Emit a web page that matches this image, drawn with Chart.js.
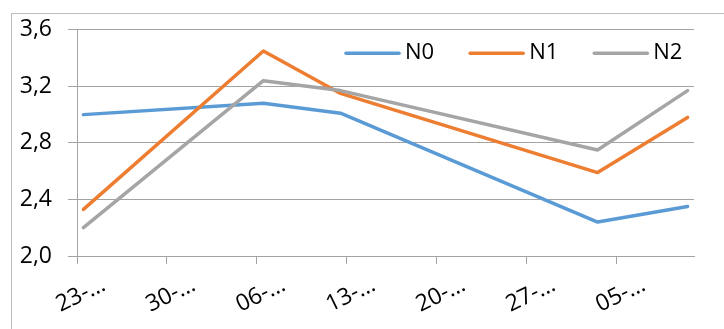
<!DOCTYPE html>
<html>
<head>
<meta charset="utf-8">
<script src="https://cdn.jsdelivr.net/npm/chart.js@4.4.1/dist/chart.umd.min.js"></script>
<style>
  html, body { margin: 0; padding: 0; background: #ffffff; }
  canvas { display: block; }
</style>
</head>
<body>
<canvas id="c" width="724" height="329"></canvas>
<script>
// Sampling dates and measured values per treatment
const startDate = '2020-01-23';
const sampleDates = ['2020-01-23', '2020-02-06', '2020-02-12', '2020-03-03', '2020-03-10'];
const seriesNames = ['N0', 'N1', 'N2'];
const n0Values = [3.00, 3.08, 3.01, 2.24, 2.35];
const n1Values = [2.33, 3.45, 3.15, 2.59, 2.98];
const n2Values = [2.20, 3.24, 3.17, 2.75, 3.17];
const seriesColors = ['#5B9BD5', '#ED7D31', '#A5A5A5'];

// Weekly axis labels (truncated date text) and value axis ticks
const tickLabels = ['23-…', '30-…', '06-…', '13-…', '20-…', '27-…', '05-…'];
const yTicks = [2.0, 2.4, 2.8, 3.2, 3.6];
const axisDays = 48;

const DAY = 86400000;
const dayIndex = d => Math.round((Date.parse(d) - Date.parse(startDate)) / DAY);
// each day occupies one slot; points sit in the middle of their day
const xValues = sampleDates.map(d => dayIndex(d) + 0.5);
const tickDays = tickLabels.map((_, i) => i * 7);

const toPoints = vals => vals.map((v, i) => ({ x: xValues[i], y: v }));

const FONT = 'Open Sans';
const GRID = '#A3A3A3';

const frame = {
  id: 'frame',
  beforeDraw(chart) {
    const ctx = chart.ctx;
    ctx.save();
    ctx.strokeStyle = '#BDBDBD';
    ctx.lineWidth = 1;
    ctx.strokeRect(11.5, 13.5, 900, 500);
    ctx.restore();
  }
};

const lineLegend = {
  id: 'lineLegend',
  afterDraw(chart) {
    const ctx = chart.ctx;
    const area = chart.chartArea;
    ctx.save();
    ctx.font = '22px "' + FONT + '"';
    ctx.textBaseline = 'middle';
    ctx.textAlign = 'left';
    const sample = 53, gap = 6, itemGap = 36;
    let x = area.left + 269;
    const y = area.top + 23.5;
    chart.data.datasets.forEach(ds => {
      ctx.strokeStyle = ds.borderColor;
      ctx.lineWidth = 3.5;
      ctx.lineCap = 'round';
      ctx.beginPath();
      ctx.moveTo(x, y);
      ctx.lineTo(x + sample, y);
      ctx.stroke();
      ctx.fillStyle = '#000000';
      ctx.fillText(ds.label, x + sample + gap, y - 1);
      x += sample + gap + ctx.measureText(ds.label).width + itemGap;
    });
    ctx.restore();
  }
};

const allValues = [n0Values, n1Values, n2Values];

new Chart(document.getElementById('c'), {
  type: 'line',
  data: {
    datasets: seriesNames.map((name, i) => ({
      label: name,
      data: toPoints(allValues[i]),
      borderColor: seriesColors[i],
      backgroundColor: seriesColors[i],
      borderWidth: 3.5,
      borderJoinStyle: 'round',
      borderCapStyle: 'round',
      pointRadius: 0,
      tension: 0,
      order: seriesNames.length - i
    }))
  },
  options: {
    responsive: false,
    devicePixelRatio: 1,
    animation: false,
    layout: { padding: { top: 29, right: 30, left: 0, bottom: 0 } },
    plugins: {
      legend: { display: false },
      tooltip: { enabled: false }
    },
    scales: {
      x: {
        type: 'linear',
        position: 'bottom',
        min: 0,
        max: axisDays,
        afterBuildTicks: s => { s.ticks = tickDays.map(v => ({ value: v })); },
        afterFit: s => { s.height = 73; },
        ticks: {
          autoSkip: false,
          minRotation: 26,
          maxRotation: 26,
          labelOffset: 27,
          padding: 7,
          color: '#000000',
          font: { family: FONT, size: 23 },
          callback: (v, i) => tickLabels[i]
        },
        grid: { drawOnChartArea: false, color: GRID, lineWidth: 1, tickLength: 8 },
        border: { color: GRID, width: 1 }
      },
      y: {
        type: 'linear',
        min: yTicks[0],
        max: yTicks[yTicks.length - 1],
        afterBuildTicks: s => { s.ticks = yTicks.map(v => ({ value: v })); },
        afterFit: s => { s.width = 77; },
        ticks: {
          padding: 16,
          color: '#000000',
          font: { family: FONT, size: 23 },
          callback: v => v.toFixed(1).replace('.', ',')
        },
        grid: { color: GRID, lineWidth: 1, tickLength: 9 },
        border: { color: GRID, width: 1 }
      }
    }
  },
  plugins: [frame, lineLegend]
});
</script>
</body>
</html>
